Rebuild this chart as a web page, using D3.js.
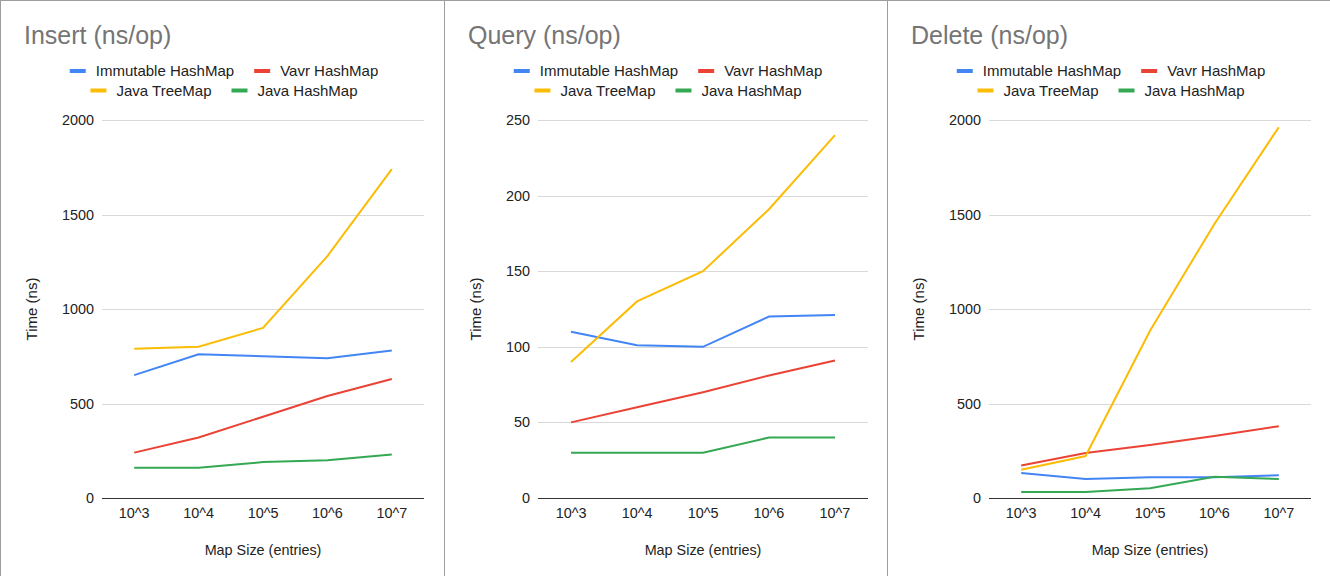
<!DOCTYPE html>
<html>
<head>
<meta charset="utf-8">
<script src="https://cdn.jsdelivr.net/npm/d3@7"></script>
<style>
  body { margin: 0; background: #fff; }
  svg { display: block; font-family: "Liberation Sans", Arial, sans-serif; }
</style>
</head>
<body>
<div id="chart"></div>
<script>
// data
var sizes = ["10^3", "10^4", "10^5", "10^6", "10^7"];
var seriesNames = ["Immutable HashMap", "Vavr HashMap", "Java TreeMap", "Java HashMap"];
var seriesColors = ["#4285f4", "#ea4335", "#fbbc04", "#34a853"];

var insertImmutable = [650, 760, 750, 740, 780];
var insertVavr = [240, 320, 430, 540, 630];
var insertTreeMap = [790, 800, 900, 1280, 1740];
var insertHashMap = [160, 160, 190, 200, 230];

var queryImmutable = [110, 101, 100, 120, 121];
var queryVavr = [50, 60, 70, 81, 91];
var queryTreeMap = [90, 130, 150, 191, 240];
var queryHashMap = [30, 30, 30, 40, 40];

var deleteImmutable = [132, 100, 110, 110, 120];
var deleteVavr = [172, 238, 280, 328, 380];
var deleteTreeMap = [150, 222, 885, 1450, 1962];
var deleteHashMap = [32, 32, 52, 112, 100];

var insertTicks = [0, 500, 1000, 1500, 2000];
var queryTicks = [0, 50, 100, 150, 200, 250];
var deleteTicks = [0, 500, 1000, 1500, 2000];

var width = 1330, height = 576;

var svg = d3.select("#chart").append("svg")
    .attr("width", width)
    .attr("height", height);

// panel borders
svg.append("line").attr("x1", 0).attr("x2", width).attr("y1", 0.5).attr("y2", 0.5)
    .attr("stroke", "#9e9e9e");
[0.5, 444.5, 887.5].forEach(function (x) {
    svg.append("line").attr("x1", x).attr("x2", x).attr("y1", 0).attr("y2", height)
        .attr("stroke", "#9e9e9e");
});

function drawPanel(px, title, series, ticks) {
    var g = svg.append("g").attr("transform", "translate(" + px + ",0)");

    // measure tick label width to place the plot
    var probe = g.append("text").style("font-size", "14.4px").text(ticks[ticks.length - 1]);
    var labelW = probe.node().getComputedTextLength();
    probe.remove();

    var left = 62 + labelW + 8, right = 424, top = 120, bottom = 498;

    var x = d3.scalePoint().domain(sizes).range([left, right]).padding(0.5);
    var y = d3.scaleLinear().domain([0, ticks[ticks.length - 1]]).range([bottom, top]);

    // title
    g.append("text")
        .attr("x", 24)
        .attr("y", 44)
        .style("font-size", "25px")
        .attr("fill", "#757575")
        .text(title);

    // legend, two rows centred on the panel
    var rows = [[0, 1], [2, 3]];
    rows.forEach(function (row, ri) {
        var lg = g.append("g");
        var cx = 0;
        row.forEach(function (si, k) {
            if (k > 0) cx += 20;
            lg.append("line")
                .attr("x1", cx).attr("x2", cx + 16)
                .attr("y1", 0).attr("y2", 0)
                .attr("stroke", seriesColors[si])
                .attr("stroke-width", 4);
            var t = lg.append("text")
                .attr("x", cx + 26)
                .attr("y", 5)
                .style("font-size", "15px")
                .attr("fill", "#222")
                .text(seriesNames[si]);
            cx += 26 + t.node().getComputedTextLength();
        });
        var startX = 224 - cx / 2;
        lg.attr("transform", "translate(" + startX + "," + (71 + ri * 19.5) + ")");
    });

    // grid lines
    g.selectAll(".grid")
        .data(ticks.slice(1))
        .enter()
        .append("line")
        .attr("x1", left).attr("x2", right)
        .attr("y1", function (d) { return Math.round(y(d)) + 0.5; })
        .attr("y2", function (d) { return Math.round(y(d)) + 0.5; })
        .attr("stroke", "#d9d9d9");

    // y tick labels
    g.selectAll(".ytick")
        .data(ticks)
        .enter()
        .append("text")
        .attr("x", left - 8)
        .attr("y", function (d) { return y(d); })
        .attr("dy", "0.35em")
        .attr("text-anchor", "end")
        .style("font-size", "14.4px")
        .attr("fill", "#222")
        .text(function (d) { return d; });

    // x tick labels
    g.selectAll(".xtick")
        .data(sizes)
        .enter()
        .append("text")
        .attr("x", function (d) { return x(d); })
        .attr("y", 518)
        .attr("text-anchor", "middle")
        .style("font-size", "14.4px")
        .attr("fill", "#222")
        .text(function (d) { return d; });

    // axis titles
    g.append("text")
        .attr("x", (left + right) / 2)
        .attr("y", 555)
        .attr("text-anchor", "middle")
        .style("font-size", "14.4px")
        .attr("fill", "#222")
        .text("Map Size (entries)");

    g.append("text")
        .attr("transform", "translate(37," + (top + bottom) / 2 + ") rotate(-90)")
        .attr("text-anchor", "middle")
        .style("font-size", "15px")
        .attr("fill", "#222")
        .text("Time (ns)");

    // lines
    var line = d3.line()
        .x(function (d, i) { return x(sizes[i]); })
        .y(function (d) { return y(d); });

    series.forEach(function (vals, i) {
        g.append("path")
            .attr("d", line(vals))
            .attr("fill", "none")
            .attr("stroke", seriesColors[i])
            .attr("stroke-width", 2);
    });

    // baseline
    g.append("line")
        .attr("x1", left).attr("x2", right)
        .attr("y1", bottom + 0.5).attr("y2", bottom + 0.5)
        .attr("stroke", "#333");
}

drawPanel(0, "Insert (ns/op)", [insertImmutable, insertVavr, insertTreeMap, insertHashMap], insertTicks);
drawPanel(444, "Query (ns/op)", [queryImmutable, queryVavr, queryTreeMap, queryHashMap], queryTicks);
drawPanel(887, "Delete (ns/op)", [deleteImmutable, deleteVavr, deleteTreeMap, deleteHashMap], deleteTicks);
</script>
</body>
</html>
